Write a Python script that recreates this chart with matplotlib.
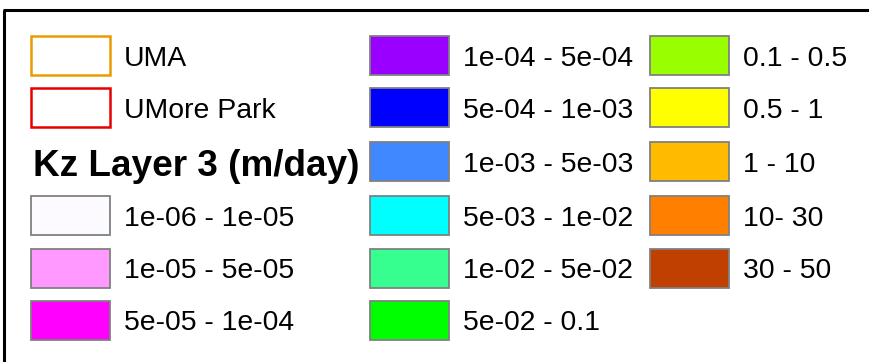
import matplotlib
matplotlib.use("Agg")
import matplotlib.pyplot as plt
from matplotlib.patches import Rectangle

# ---- legend content ----
outline_labels = ["UMA", "UMore Park"]
outline_colors = ["#E89C00", "#E60000"]

title = "Kz Layer 3 (m/day)"

class_labels = [
    "1e-06 - 1e-05", "1e-05 - 5e-05", "5e-05 - 1e-04",
    "1e-04 - 5e-04", "5e-04 - 1e-03", "1e-03 - 5e-03",
    "5e-03 - 1e-02", "1e-02 - 5e-02", "5e-02 - 0.1",
    "0.1 - 0.5", "0.5 - 1", "1 - 10", "10- 30", "30 - 50",
]
class_colors = [
    "#FDFAFF", "#FF99FF", "#FF00FF",
    "#9900FF", "#0000FF", "#3F88FF",
    "#00FFFF", "#36FF90", "#00FF00",
    "#99FF00", "#FFFF00", "#FFBB00", "#FF8000", "#BF4000",
]

# ---- layout (pixels) ----
W, H = 870, 362
fig = plt.figure(figsize=(W / 100, H / 100), dpi=100)
ax = fig.add_axes([0, 0, 1, 1])
ax.set_xlim(0, W)
ax.set_ylim(H, 0)
ax.axis("off")

font = "Liberation Sans"
fs = 20.4
sw_w, sw_h = 79, 39
col_x = [31, 370, 650]
text_dx = 93
row_y = [36, 88, 142, 196, 249, 301]


def swatch(x, y, face, edge, lw):
    ax.add_patch(Rectangle((x, y), sw_w, sw_h, facecolor=face, edgecolor=edge,
                           linewidth=lw))


def label(x, y, s):
    ax.text(x + text_dx, y + sw_h / 2 + 10, s, fontsize=fs, family=font,
            va="baseline", ha="left", color="#000000")


# frame (top and left edges visible)
ax.plot([4.5, 4.5], [H + 5, 9.5], color="black", lw=2.2, solid_capstyle="butt")
ax.plot([3.4, W + 5], [9.5, 9.5], color="black", lw=2.2, solid_capstyle="butt")

# outline entries
for i, (lab, col) in enumerate(zip(outline_labels, outline_colors)):
    swatch(col_x[0], row_y[i], "white", col, 1.8)
    label(col_x[0], row_y[i], lab)

# title
ax.text(33, 176, title, fontsize=26.6, family=font, fontweight="bold",
        va="baseline", ha="left", color="#000000")

# class entries laid out in columns
slots = [(0, 3), (0, 4), (0, 5)] + [(1, r) for r in range(6)] + [(2, r) for r in range(5)]
for (c, r), lab, col in zip(slots, class_labels, class_colors):
    swatch(col_x[c], row_y[r], col, "#808080", 1.3)
    label(col_x[c], row_y[r], lab)

fig.savefig("out.png", dpi=100)
